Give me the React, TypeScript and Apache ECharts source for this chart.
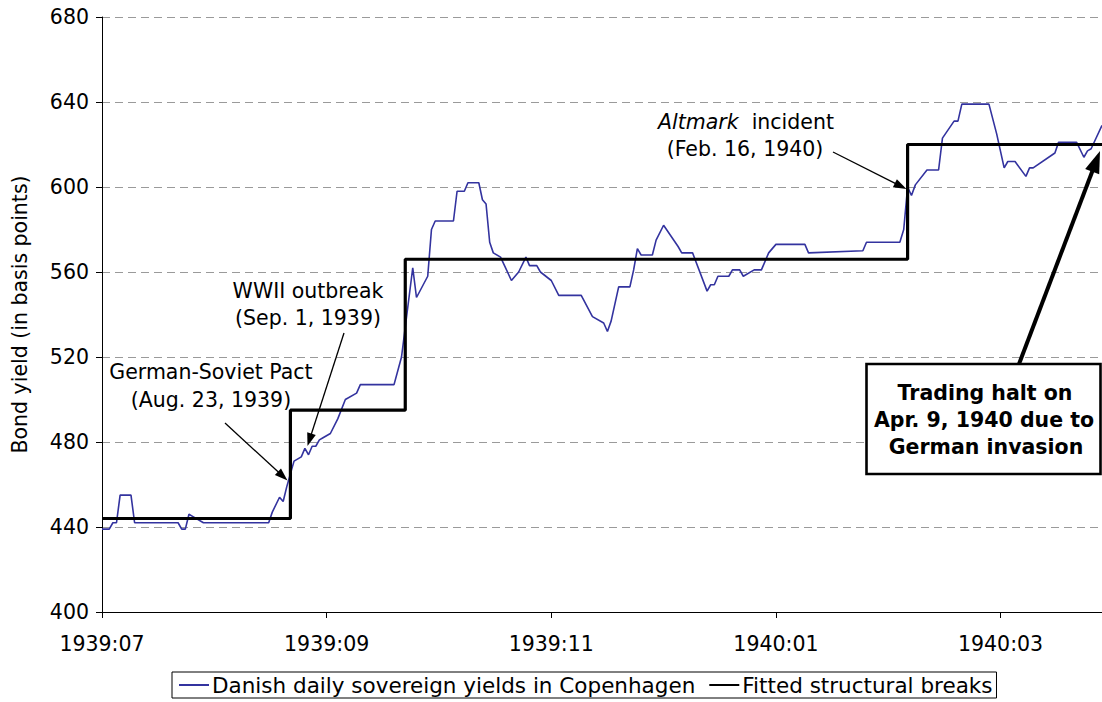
import React, { useEffect, useRef } from "react";
import * as echarts from "echarts";

// Danish daily sovereign yields in Copenhagen (basis points)
const yieldDates: string[] = [
  "1939-07-01", "1939-07-03", "1939-07-04", "1939-07-05", "1939-07-06", "1939-07-09", "1939-07-10",
  "1939-07-22", "1939-07-23", "1939-07-24", "1939-07-25", "1939-07-26", "1939-07-29",
  "1939-08-16", "1939-08-17", "1939-08-19", "1939-08-20", "1939-08-21", "1939-08-22", "1939-08-23",
  "1939-08-25", "1939-08-26", "1939-08-27", "1939-08-28", "1939-08-29", "1939-08-30", "1939-08-31",
  "1939-09-02", "1939-09-04", "1939-09-06", "1939-09-09", "1939-09-10", "1939-09-19", "1939-09-21",
  "1939-09-22", "1939-09-24", "1939-09-25", "1939-09-28", "1939-09-29", "1939-09-30",
  "1939-10-05", "1939-10-06", "1939-10-08", "1939-10-09", "1939-10-12", "1939-10-13", "1939-10-14",
  "1939-10-15", "1939-10-16", "1939-10-18", "1939-10-21", "1939-10-23", "1939-10-25", "1939-10-26",
  "1939-10-28", "1939-10-29",
  "1939-11-01", "1939-11-03", "1939-11-09", "1939-11-12", "1939-11-15", "1939-11-16", "1939-11-17",
  "1939-11-19", "1939-11-22", "1939-11-23", "1939-11-24", "1939-11-25", "1939-11-28", "1939-11-29",
  "1939-12-01", "1939-12-05", "1939-12-06", "1939-12-09", "1939-12-13", "1939-12-14", "1939-12-15",
  "1939-12-16", "1939-12-19", "1939-12-20", "1939-12-22", "1939-12-23", "1939-12-26", "1939-12-28",
  "1939-12-30",
  "1940-01-01", "1940-01-09", "1940-01-10", "1940-01-25", "1940-01-26",
  "1940-02-04", "1940-02-05", "1940-02-06", "1940-02-07", "1940-02-08", "1940-02-11", "1940-02-14",
  "1940-02-15", "1940-02-18", "1940-02-19", "1940-02-20", "1940-02-24", "1940-02-27", "1940-02-29",
  "1940-03-02", "1940-03-03", "1940-03-05", "1940-03-08", "1940-03-09", "1940-03-10", "1940-03-16",
  "1940-03-17", "1940-03-22", "1940-03-24", "1940-03-25", "1940-03-26", "1940-03-29",
];
const yieldValues: number[] = [
  439, 439, 442, 442, 455, 455, 442,
  442, 439, 439, 446, 445, 442,
  442, 447, 454, 452, 459, 465, 471,
  473, 477, 474, 478, 478, 481, 482,
  484, 491, 500, 503, 507, 507, 520,
  534, 562, 548, 558, 580, 584,
  584, 598, 598, 602, 602, 594, 592,
  574, 569, 567, 556, 560, 567, 563,
  563, 560,
  556, 549, 549, 539, 536, 532, 537,
  553, 553, 561, 571, 568, 568, 575,
  582, 572, 569, 569, 551, 554, 554,
  558, 558, 561, 561, 558, 561, 561,
  569,
  573, 573, 569, 570, 574,
  574, 580, 600, 596, 601, 608, 608,
  623, 631, 631, 639, 639, 639, 625,
  609, 612, 612, 605, 609, 609, 616,
  621, 621, 614, 617, 618, 629,
];

// Fitted structural breaks: level holds until the next break date
const breakDates: string[] = ["1939-07-01", "1939-08-22", "1939-09-22", "1940-02-06", "1940-03-29"];
const breakLevels: number[] = [444, 495, 566, 620, 620];

const xTickLabels: string[] = ["1939:07", "1939:09", "1939:11", "1940:01", "1940:03"];
const axisStart = "1939-07-01";
const axisEnd = "1940-03-29";
const yMin = 400;
const yMax = 680;
const yStep = 40;

const FONT = '"DejaVu Sans", Verdana, sans-serif';
const FS = 20.5;

function toMonthPos(s: string): number {
  const [y, m, d] = s.split("-").map(Number);
  const [y0, m0] = axisStart.split("-").map(Number);
  const dim = new Date(y, m, 0).getDate();
  return (y - y0) * 12 + (m - m0) + (d - 1) / dim;
}

function arrow(x1: number, y1: number, x2: number, y2: number, lw: number, hl: number, hw: number) {
  const dx = x2 - x1;
  const dy = y2 - y1;
  const L = Math.hypot(dx, dy);
  const ux = dx / L;
  const uy = dy / L;
  const bx = x2 - ux * hl;
  const by = y2 - uy * hl;
  const px = -uy;
  const py = ux;
  return [
    {
      type: "line",
      z: 100,
      shape: { x1, y1, x2: bx + ux * 2, y2: by + uy * 2 },
      style: { stroke: "#000", lineWidth: lw },
    },
    {
      type: "polygon",
      z: 100,
      shape: {
        points: [
          [x2, y2],
          [bx + (px * hw) / 2, by + (py * hw) / 2],
          [bx - (px * hw) / 2, by - (py * hw) / 2],
        ],
      },
      style: { fill: "#000" },
    },
  ];
}

function txt(text: string, x: number, y: number, bold = false, rich?: any) {
  return {
    type: "text",
    z: 101,
    style: {
      text,
      x,
      y,
      fill: "#000",
      fontSize: FS,
      fontFamily: FONT,
      fontWeight: bold ? "bold" : "normal",
      align: "center",
      verticalAlign: "middle",
      rich,
    },
  };
}

export default function App() {
  const ref = useRef<HTMLDivElement>(null);

  useEffect(() => {
    if (!ref.current) return;
    const chart = echarts.init(ref.current, undefined, { renderer: "svg" });

    const blueData = yieldDates.map((d, i) => [toMonthPos(d), yieldValues[i]]);
    const breakData = breakDates.map((d, i) => [toMonthPos(d), breakLevels[i]]);

    const option: any = {
      animation: false,
      backgroundColor: "#fff",
      textStyle: { fontFamily: FONT },
      grid: { left: 102, right: 0, top: 17, bottom: 90, containLabel: false },
      xAxis: {
        type: "value",
        min: 0,
        max: toMonthPos(axisEnd),
        interval: 2,
        axisLine: { show: true, onZero: false, lineStyle: { color: "#000", width: 1 } },
        axisTick: { show: true, inside: false, length: 6, lineStyle: { color: "#000" } },
        splitLine: { show: false },
        axisLabel: {
          show: true,
          showMaxLabel: false,
          margin: 21,
          color: "#000",
          fontSize: FS,
          fontFamily: FONT,
          formatter: (v: number) => {
            const idx = Math.round(v) / 2;
            if (Math.abs(v - Math.round(v)) > 1e-6) return "";
            return xTickLabels[idx] ?? "";
          },
        },
      },
      yAxis: {
        type: "value",
        min: yMin,
        max: yMax,
        interval: yStep,
        name: "Bond yield (in basis points)",
        nameLocation: "middle",
        nameGap: 72,
        nameTextStyle: { color: "#000", fontSize: FS, fontFamily: FONT },
        axisLine: { show: true, lineStyle: { color: "#000", width: 1 } },
        axisTick: { show: true, inside: false, length: 6, lineStyle: { color: "#000" } },
        axisLabel: { color: "#000", fontSize: FS, fontFamily: FONT, margin: 13 },
        splitLine: { show: true, lineStyle: { color: "#9a9a9a", type: [8, 5], width: 1 } },
      },
      legend: {
        left: 172,
        top: 672,
        orient: "horizontal",
        padding: [2, 4, 2, 6],
        itemGap: 13,
        itemWidth: 30,
        itemHeight: 14,
        borderColor: "#000",
        borderWidth: 1,
        backgroundColor: "#fff",
        itemStyle: { opacity: 0 },
        textStyle: { color: "#000", fontSize: 21.5, fontFamily: FONT, padding: [0, 0, 0, -2] },
        data: ["Danish daily sovereign yields in Copenhagen", "Fitted structural breaks"],
      },
      series: [
        {
          name: "Danish daily sovereign yields in Copenhagen",
          type: "line",
          data: blueData,
          symbol: "none",
          lineStyle: { color: "#33339f", width: 1.6 },
          itemStyle: { color: "#33339f" },
          z: 2,
        },
        {
          name: "Fitted structural breaks",
          type: "line",
          step: "end",
          data: breakData,
          symbol: "none",
          lineStyle: { color: "#000", width: 3.2 },
          itemStyle: { color: "#000" },
          z: 3,
        },
      ],
      graphic: [
        txt("German-Soviet Pact", 211, 372),
        txt("(Aug. 23, 1939)", 211, 400),
        ...arrow(225, 423, 287.5, 480.5, 1.3, 13, 9),
        txt("WWII outbreak", 308, 291),
        txt("(Sep. 1, 1939)", 308, 318),
        ...arrow(344, 333, 307.5, 446, 1.3, 13, 9),
        txt("{i|Altmark}  incident", 746, 122, false, {
          i: { fontStyle: "italic", fontSize: FS, fontFamily: FONT, fill: "#000" },
        }),
        txt("(Feb. 16, 1940)", 745, 149),
        ...arrow(833, 152, 906.5, 189, 1.3, 13, 9),
        ...arrow(1019, 364, 1100, 151, 4, 22, 15),
        {
          type: "rect",
          z: 102,
          shape: { x: 866.5, y: 364, width: 234, height: 110 },
          style: { fill: "#fff", stroke: "#000", lineWidth: 2.6 },
        },
        { ...txt("Trading halt on", 985, 392.5, true), z: 103 },
        { ...txt("Apr. 9, 1940 due to", 984, 419.5, true), z: 103 },
        { ...txt("German invasion", 986, 446.5, true), z: 103 },
      ],
    };

    chart.setOption(option);
    return () => chart.dispose();
  }, []);

  return (
    <div
      ref={ref}
      style={{ position: "absolute", left: 0, top: 0, width: 1102, height: 702, background: "#fff" }}
    />
  );
}
